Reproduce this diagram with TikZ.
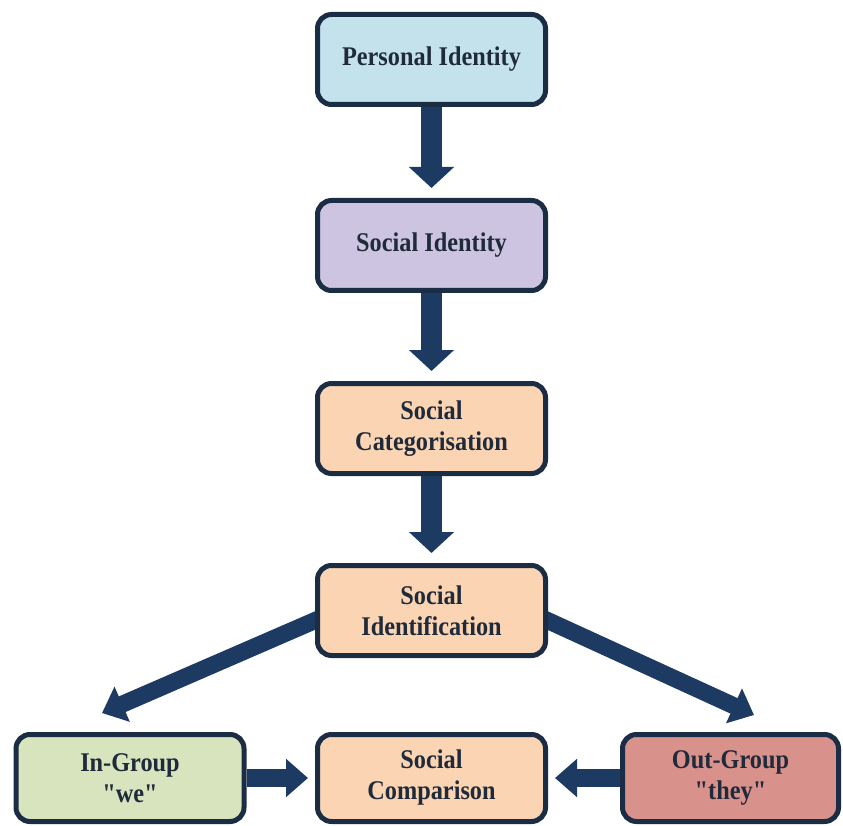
\documentclass[tikz,border=0pt]{standalone}
\usepackage{fontspec}
\setmainfont{Liberation Serif}
\newfontfamily\boxfont[FakeStretch=0.9]{Liberation Serif}
\usetikzlibrary{arrows.meta,backgrounds}

\definecolor{navy}{HTML}{1B2C45}
\definecolor{arrowblue}{HTML}{1D3A62}
\definecolor{inktext}{HTML}{1F2A3A}
\definecolor{skyfill}{HTML}{C4E2EC}
\definecolor{lilacfill}{HTML}{CCC4E0}
\definecolor{peachfill}{HTML}{FBD4B3}
\definecolor{sagefill}{HTML}{D8E4BE}
\definecolor{rosefill}{HTML}{D9918B}

\tikzset{
  stagebox/.style={draw=navy, line width=5pt, rounded corners=14pt,
    minimum width=228pt, minimum height=90pt, align=center,
    text=inktext, font=\boxfont\bfseries\fontsize{27}{31}\selectfont},
  bottombox/.style={stagebox, minimum height=87pt},
  downarrow/.style={draw=arrowblue, line width=21pt,
    -{Triangle[length=21pt,width=44pt]}, shorten >=10pt},
  sidearrow/.style={draw=arrowblue, line width=17pt,
    -{Triangle[length=22pt,width=37pt]}},
}

\begin{document}
\begin{tikzpicture}[x=1pt,y=-1pt]
  \useasboundingbox (0,0) rectangle (843,826);

  % stages of the main chain
  \node[stagebox, fill=skyfill]   (pid)  at (431.5,59.5)  {Personal Identity};
  \node[stagebox, fill=lilacfill] (sid)  at (431.5,245.5) {Social Identity};
  \node[stagebox, fill=peachfill] (scat) at (431.5,428.5) {Social\\Categorisation};
  \node[stagebox, fill=peachfill] (sidf) at (431.5,610.5) {Social\\Identification};

  % bottom row
  \node[bottombox, fill=sagefill]  (ing)  at (130,778)   {In-Group\\"we"};
  \node[bottombox, fill=peachfill] (scmp) at (431.5,778) {Social\\Comparison};
  \node[bottombox, fill=rosefill, minimum width=216pt] (outg) at (730.5,778) {Out-Group\\"they"};

  % free ends of the diagonal arrows
  \coordinate (ltip) at (102,713);
  \coordinate (rtip) at (754,715);

  \begin{scope}[on background layer]
    \draw[downarrow] (pid.south)  -- (sid.north);
    \draw[downarrow] (sid.south)  -- (scat.north);
    \draw[downarrow] (scat.south) -- (sidf.north);

    \draw[sidearrow] ([xshift=7pt,yshift=-7pt]sidf.west) -- (ltip);
    \draw[sidearrow] ([xshift=-7pt,yshift=-7pt]sidf.east) -- (rtip);

    \draw[sidearrow, line width=18pt, shorten >=7pt] (ing.east)  -- (scmp.west);
    \draw[sidearrow, line width=18pt, shorten >=7pt] (outg.west) -- (scmp.east);
  \end{scope}
\end{tikzpicture}
\end{document}
